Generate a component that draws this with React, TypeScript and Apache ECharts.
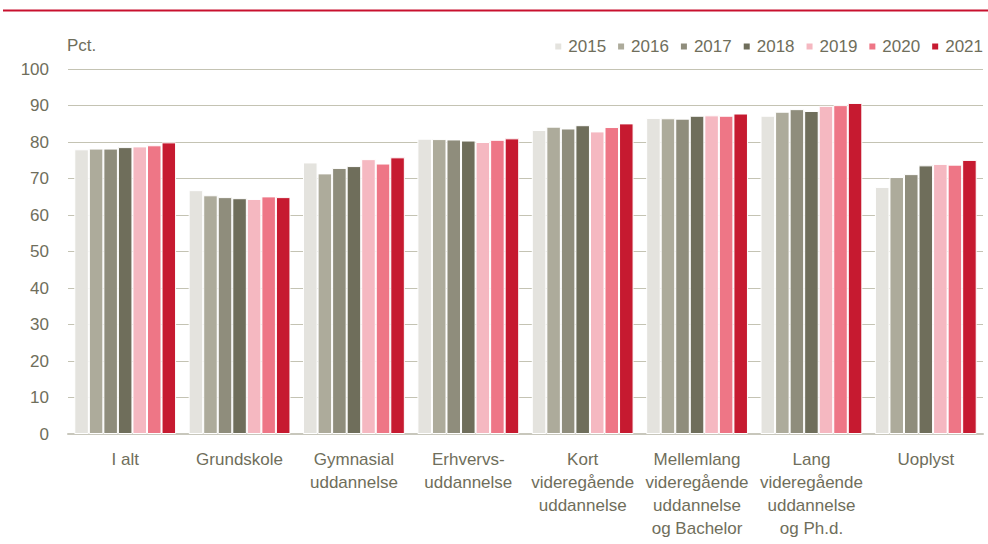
import React, { useEffect, useRef } from "react";
import * as echarts from "echarts";

const categories = [
  "I alt",
  "Grundskole",
  "Gymnasial\nuddannelse",
  "Erhvervs-\nuddannelse",
  "Kort\nvideregående\nuddannelse",
  "Mellemlang\nvideregående\nuddannelse\nog Bachelor",
  "Lang\nvideregående\nuddannelse\nog Ph.d.",
  "Uoplyst",
];

const years = ["2015", "2016", "2017", "2018", "2019", "2020", "2021"];
const colors = ["#e4e3de", "#adab9b", "#8f8d7c", "#6f6e5b", "#f5b8c1", "#ee7686", "#c61a30"];

const v2015 = [78.0, 66.8, 74.4, 80.9, 83.3, 86.6, 87.2, 67.7];
const v2016 = [78.2, 65.4, 71.4, 80.8, 84.2, 86.5, 88.3, 70.4];
const v2017 = [78.2, 64.9, 72.9, 80.7, 83.7, 86.4, 89.0, 71.2];
const v2018 = [78.6, 64.6, 73.4, 80.4, 84.6, 87.2, 88.5, 73.6];
const v2019 = [78.8, 64.4, 75.3, 80.0, 82.9, 87.3, 89.9, 74.0];
const v2020 = [79.1, 65.1, 74.1, 80.6, 84.1, 87.2, 90.1, 73.8];
const v2021 = [79.9, 64.9, 75.8, 81.0, 85.1, 87.8, 90.7, 75.1];
const seriesValues = [v2015, v2016, v2017, v2018, v2019, v2020, v2021];

const yTicks = [0, 10, 20, 30, 40, 50, 60, 70, 80, 90, 100];

const FONT = "'Liberation Sans', Arial, sans-serif";
const TEXT = "#6f6e5b";
const FS = 17;

export default function App() {
  const ref = useRef<HTMLDivElement>(null);
  useEffect(() => {
    if (!ref.current) return;
    const chart = echarts.init(ref.current, undefined, { renderer: "svg" });
    chart.setOption({
      animation: false,
      textStyle: { fontFamily: FONT, color: TEXT },
      grid: { left: 68, right: 5, top: 69, bottom: 110, containLabel: false },
      graphic: [
        {
          type: "line",
          shape: { x1: 3, y1: 10.5, x2: 988, y2: 10.5 },
          style: { stroke: "#c8102e", lineWidth: 2 },
        },
        {
          type: "text",
          left: 67,
          top: 37,
          style: { text: "Pct.", fontSize: FS, fontFamily: FONT, fill: TEXT },
        },
      ],
      legend: {
        right: 0,
        top: 33,
        itemWidth: 8,
        itemHeight: 8,
        itemGap: 10,
        icon: "rect",
        textStyle: { fontSize: FS, color: TEXT, fontFamily: FONT, padding: [0, 0, 0, 1] },
        data: years,
      },
      xAxis: {
        type: "category",
        data: categories,
        axisLine: { lineStyle: { color: "#c8c7bc", width: 2 } },
        axisTick: { show: false },
        axisLabel: {
          interval: 0,
          fontSize: FS,
          lineHeight: 23,
          color: TEXT,
          fontFamily: FONT,
          margin: 14,
        },
      },
      yAxis: {
        type: "value",
        min: yTicks[0],
        max: yTicks[yTicks.length - 1],
        interval: 10,
        axisLine: { show: false },
        axisTick: { show: false },
        splitLine: { lineStyle: { color: "#c4c3b3", width: 1 } },
        axisLabel: { fontSize: FS, color: TEXT, fontFamily: FONT, margin: 19 },
      },
      series: years.map((y, i) => ({
        name: y,
        type: "bar",
        data: seriesValues[i],
        barGap: "0%",
        barCategoryGap: "11%",
        itemStyle: { color: colors[i], borderColor: "#ffffff", borderWidth: 1 },
      })),
    });
    return () => chart.dispose();
  }, []);
  return <div ref={ref} style={{ width: 988, height: 544, position: "absolute", left: 0, top: 0 }} />;
}
